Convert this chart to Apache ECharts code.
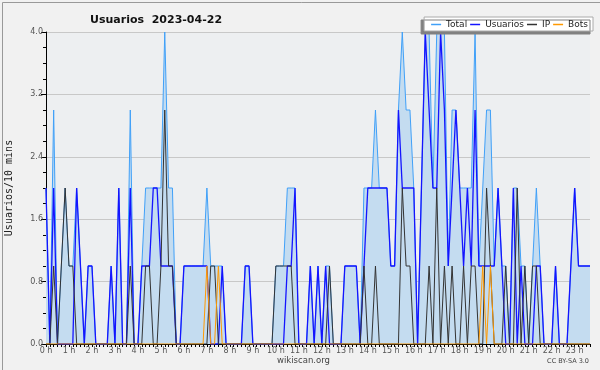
<!DOCTYPE html>
<html>
<head>
<meta charset="utf-8">
<script src="https://cdn.jsdelivr.net/npm/echarts@6/dist/echarts.min.js"></script>
<style>
html,body{margin:0;padding:0;background:#f1f1f1;}
#c{width:600px;height:370px;}
</style>
</head>
<body>
<div id="c"></div>
<script>
// 10-minute slots, index 0 = 00:00
const slotCount = 143;
const categories = [];
for (let i = 0; i < slotCount; i++) {
  const h = Math.floor(i / 6), m = (i % 6) * 10;
  categories.push(h + ':' + (m < 10 ? '0' : '') + m);
}
const hourLabels = ['0 h','1 h','2 h','3 h','4 h','5 h','6 h','7 h','8 h','9 h','10 h','11 h','12 h','13 h','14 h','15 h','16 h','17 h','18 h','19 h','20 h','21 h','22 h','23 h'];
const yTicks = [0, 0.8, 1.6, 2.4, 3.2, 4.0];

const total = [
  2,0,3,0,1,2,1,1,2,1,
  0,1,1,0,0,0,0,1,0,2,
  0,0,3,0,0,1,2,2,2,2,
  2,4,2,2,0,0,1,1,1,1,
  1,1,2,1,1,1,1,0,0,0,
  0,0,1,1,0,0,0,0,0,0,
  1,1,1,2,2,2,0,0,0,1,
  0,1,0,1,1,0,0,0,1,1,
  1,1,0,2,2,2,3,2,2,2,
  1,1,3,4,3,3,2,0,2,4,
  4,2,4,4,4,1,3,3,2,2,
  2,2,4,1,2,3,3,1,2,1,
  1,0,2,2,1,1,0,1,2,1,
  0,0,0,1,0,0,0,1,2,1,
  1,1,1];
const usuarios = [
  2,0,2,0,0,0,0,0,2,1,
  0,1,1,0,0,0,0,1,0,2,
  0,0,2,0,0,1,1,1,2,2,
  1,1,1,1,0,0,1,1,1,1,
  1,1,1,0,0,0,1,0,0,0,
  0,0,1,1,0,0,0,0,0,0,
  0,0,0,1,1,2,0,0,0,1,
  0,1,0,1,0,0,0,0,1,1,
  1,1,0,1,2,2,2,2,2,2,
  1,1,3,2,2,2,2,0,2,4,
  3,2,2,4,3,1,2,3,2,1,
  2,1,3,1,1,1,1,1,2,1,
  0,0,2,0,1,0,0,0,1,1,
  0,0,0,1,0,0,0,1,2,1,
  1,1,1];
const ip = [
  0,0,1,0,1,2,1,1,0,0,
  0,0,0,0,0,0,0,0,0,0,
  0,0,1,0,0,0,1,1,0,0,
  1,3,1,1,0,0,0,0,0,0,
  0,0,0,1,1,0,0,0,0,0,
  0,0,0,0,0,0,0,0,0,0,
  1,1,1,1,1,0,0,0,0,0,
  0,0,0,0,1,0,0,0,0,0,
  0,0,0,1,0,0,1,0,0,0,
  0,0,0,2,1,1,0,0,0,0,
  1,0,2,0,1,0,1,0,0,1,
  0,1,1,0,0,2,1,0,0,0,
  1,0,0,2,0,1,0,1,1,0,
  0,0,0,0,0,0,0,0,0,0,
  0,0,0];
const bots = [
  0,0,0,0,0,0,0,0,0,0,
  0,0,0,0,0,0,0,0,0,0,
  0,0,0,0,0,0,0,0,0,0,
  0,0,0,0,0,0,0,0,0,0,
  0,0,1,0,0,1,0,0,0,0,
  0,0,0,0,0,0,0,0,0,0,
  0,0,0,0,0,0,0,0,0,0,
  0,0,0,0,0,0,0,0,0,0,
  0,0,0,0,0,0,0,0,0,0,
  0,0,0,0,0,0,0,0,0,0,
  0,0,0,0,0,0,0,0,0,0,
  0,0,0,0,1,0,1,0,0,0,
  0,0,0,0,0,0,0,0,0,0,
  0,0,0,0,0,0,0,0,0,0,
  0,0,0];

const chart = echarts.init(document.getElementById('c'), null, {renderer: 'canvas'});
const lineS = (name, data, color, width, z, area) => ({
  name, type: 'line', data, symbol: 'none', showSymbol: false, z,
  lineStyle: {color, width},
  itemStyle: {color},
  areaStyle: area ? {color: area, opacity: 1} : undefined,
  emphasis: {disabled: true}
});
chart.setOption({
  backgroundColor: '#f1f1f1',
  animation: false,
  textStyle: {fontFamily: 'DejaVu Sans'},
  title: {
    text: 'Usuarios  2023-04-22', left: 85, top: 10,
    textStyle: {fontFamily: 'DejaVu Sans', fontSize: 11, fontWeight: 'bold', color: '#111'}
  },
  legend: {
    right: 7, top: 17, icon: 'rect', itemWidth: 10, itemHeight: 1.5, itemGap: 3,
    padding: [3, 5, 2, 7], backgroundColor: '#fff', borderColor: '#aaa', borderWidth: 1,
    shadowColor: '#808080', shadowOffsetX: -3, shadowOffsetY: 3, shadowBlur: 0,
    textStyle: {fontSize: 9, fontFamily: 'DejaVu Sans', color: '#222'},
    data: ['Total', 'Usuarios', 'IP', 'Bots']
  },
  grid: {left: 46, right: 10, top: 32, bottom: 26, show: true, backgroundColor: '#edeff1', borderWidth: 0,
         containLabel: false, outerBoundsMode: 'none'},
  xAxis: {
    type: 'category', data: categories, boundaryGap: false,
    axisLine: {lineStyle: {color: '#000', width: 1}},
    axisTick: {interval: 0, length: 3, lineStyle: {color: '#000'}},
    axisLabel: {interval: 5, formatter: (v, idx) => hourLabels[Math.floor(idx / 6)], fontSize: 8, color: '#555', margin: 3},
    splitLine: {show: false}
  },
  yAxis: {
    type: 'value', min: yTicks[0], max: yTicks[yTicks.length - 1], interval: 0.8,
    axisLine: {show: true, lineStyle: {color: '#000'}},
    axisTick: {show: true, length: 5, lineStyle: {color: '#000'}},
    minorTick: {show: true, splitNumber: 4, length: 3, lineStyle: {color: '#000'}},
    axisLabel: {formatter: v => v.toFixed(1), fontSize: 8, color: '#555', margin: 3},
    splitLine: {lineStyle: {color: '#c8c8c8'}},
    name: 'Usuarios/10 mins', nameLocation: 'middle', nameGap: 32,
    nameTextStyle: {fontFamily: 'DejaVu Sans Mono', fontSize: 10, color: '#222'}
  },
  series: [
    lineS('Total', total, '#40a0f8', 1, 2, '#c4dcf0'),
    lineS('Usuarios', usuarios, '#1414ff', 1.3, 3),
    lineS('IP', ip, '#333333', 1, 4),
    lineS('Bots', bots, '#ff9900', 1, 5)
  ],
  graphic: [
    {type: 'text', left: 277, top: 356, style: {text: 'wikiscan.org', fontSize: 8.5, fontFamily: 'DejaVu Sans', fill: '#444'}},
    {type: 'text', right: 11, top: 358, style: {text: 'CC BY-SA 3.0', fontSize: 6.5, fontFamily: 'DejaVu Sans', fill: '#444'}},
    {type: 'rect', left: 0, top: 0, shape: {x: 0.5, y: 0.5, width: 599, height: 369}, style: {fill: 'none', stroke: '#999', lineWidth: 1}, silent: true}
  ]
});
</script>
</body>
</html>
